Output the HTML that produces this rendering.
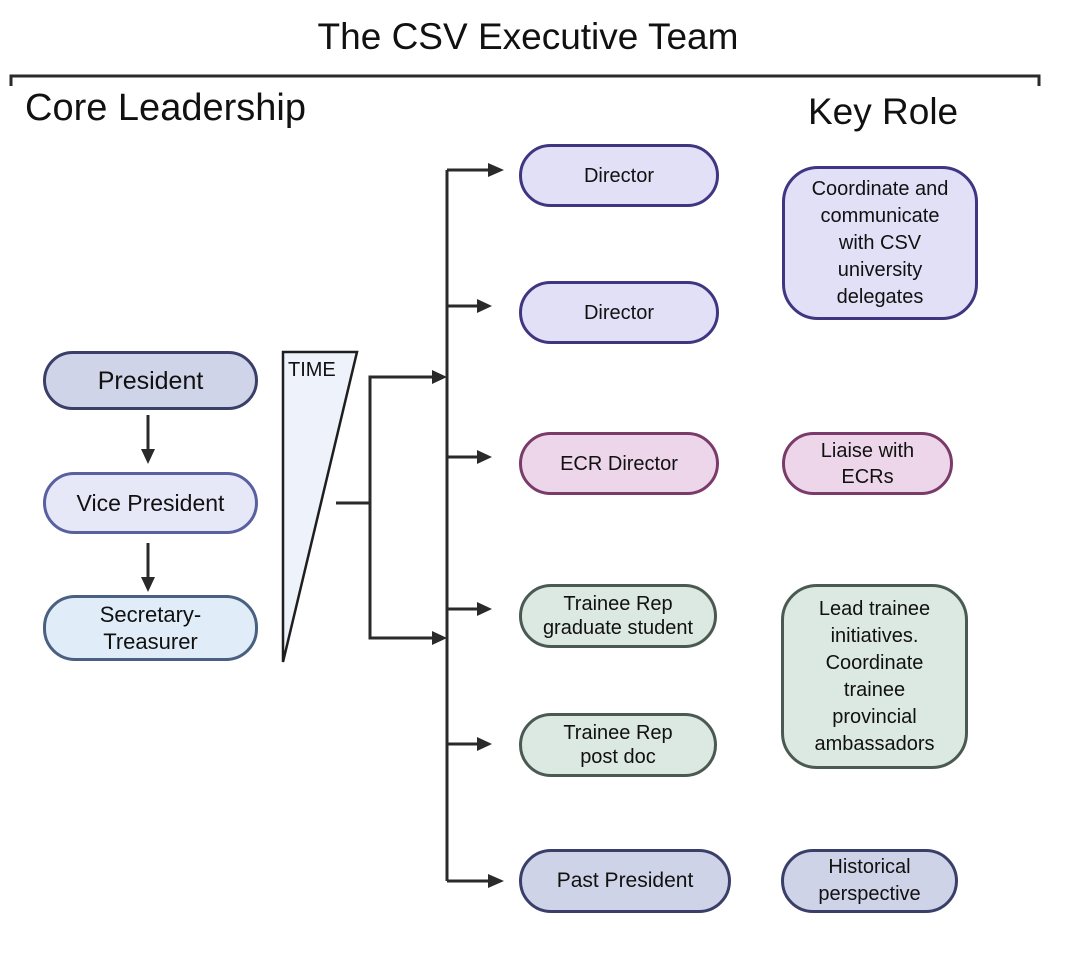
<!DOCTYPE html>
<html><head><meta charset="utf-8"><style>
body{margin:0;width:1065px;height:961px;background:#fff;position:relative;overflow:hidden;font-family:"Liberation Sans",Arial,sans-serif;color:#111}
.t{position:absolute;white-space:nowrap}
.n{position:absolute;box-sizing:border-box;display:flex;align-items:center;justify-content:center;text-align:center;border:3px solid;border-radius:32px;font-size:20px;line-height:24px}
</style></head><body>
<svg width="1065" height="961" style="position:absolute;left:0;top:0">
<g stroke="#2a2a2a" stroke-width="3" fill="none">
<polyline points="11,86 11,76 1039,76 1039,86"/>
<line x1="148" y1="415" x2="148" y2="450"/>
<line x1="148" y1="543" x2="148" y2="578"/>
<line x1="336" y1="503" x2="370" y2="503"/>
<polyline points="432,377 370,377 370,638 432,638"/>
<line x1="447" y1="170" x2="447" y2="881"/>
<line x1="447" y1="170" x2="488" y2="170"/>
<line x1="447" y1="306" x2="478" y2="306"/>
<line x1="447" y1="457" x2="478" y2="457"/>
<line x1="447" y1="609" x2="478" y2="609"/>
<line x1="447" y1="744" x2="478" y2="744"/>
<line x1="447" y1="881" x2="488" y2="881"/>
</g>
<g fill="#2a2a2a">
<polygon points="141,449 155,449 148,464"/>
<polygon points="141,577 155,577 148,592"/>
<polygon points="432,370 432,384 447,377"/>
<polygon points="432,631 432,645 447,638"/>
<polygon points="488,163 488,177 504,170"/>
<polygon points="477,299 477,313 492,306"/>
<polygon points="477,450 477,464 492,457"/>
<polygon points="477,602 477,616 492,609"/>
<polygon points="477,737 477,751 492,744"/>
<polygon points="488,874 488,888 504,881"/>
</g>
<polygon points="283,352 357,352 283,662" fill="#edf2fb" stroke="#1e1e1e" stroke-width="2.5"/>
</svg>
<div class="t" style="left:0;width:1056px;text-align:center;top:16px;font-size:37px">The CSV Executive Team</div>
<div class="t" style="left:25px;top:87px;font-size:38px">Core Leadership</div>
<div class="t" style="left:808px;top:91px;font-size:37px">Key Role</div>
<div class="t" style="left:288px;top:359px;font-size:20px">TIME</div>

<div class="n" style="left:43px;top:351px;width:215px;height:59px;background:#d0d4e8;border-color:#3a3f6a;font-size:25px">President</div>
<div class="n" style="left:43px;top:472px;width:215px;height:62px;background:#e6e8f8;border-color:#5a5fa0;font-size:23px">Vice President</div>
<div class="n" style="left:43px;top:595px;width:215px;height:66px;background:#e0ecf8;border-color:#4a6080;font-size:22px;line-height:27px">Secretary-<br>Treasurer</div>

<div class="n" style="left:519px;top:144px;width:200px;height:63px;background:#e2e0f6;border-color:#3f3580">Director</div>
<div class="n" style="left:519px;top:281px;width:200px;height:63px;background:#e2e0f6;border-color:#3f3580">Director</div>
<div class="n" style="left:519px;top:432px;width:200px;height:63px;background:#edd6ea;border-color:#7a3a6a">ECR Director</div>
<div class="n" style="left:519px;top:584px;width:198px;height:64px;background:#dce8e2;border-color:#4a5a52">Trainee Rep<br>graduate student</div>
<div class="n" style="left:519px;top:713px;width:198px;height:64px;background:#dce8e2;border-color:#4a5a52">Trainee Rep<br>post doc</div>
<div class="n" style="left:519px;top:849px;width:212px;height:64px;background:#cfd3e8;border-color:#3a3f6a;font-size:21px">Past President</div>

<div class="n" style="left:782px;top:166px;width:196px;height:154px;background:#e2e0f6;border-color:#3f3580;border-radius:36px;line-height:27px">Coordinate and<br>communicate<br>with CSV<br>university<br>delegates</div>
<div class="n" style="left:782px;top:432px;width:171px;height:63px;background:#edd6ea;border-color:#7a3a6a;line-height:26px">Liaise with<br>ECRs</div>
<div class="n" style="left:781px;top:584px;width:187px;height:185px;background:#dce8e2;border-color:#4a5a52;border-radius:36px;line-height:27px">Lead trainee<br>initiatives.<br>Coordinate<br>trainee<br>provincial<br>ambassadors</div>
<div class="n" style="left:781px;top:849px;width:177px;height:64px;background:#cfd3e8;border-color:#3a3f6a;line-height:27px">Historical<br>perspective</div>
</body></html>
